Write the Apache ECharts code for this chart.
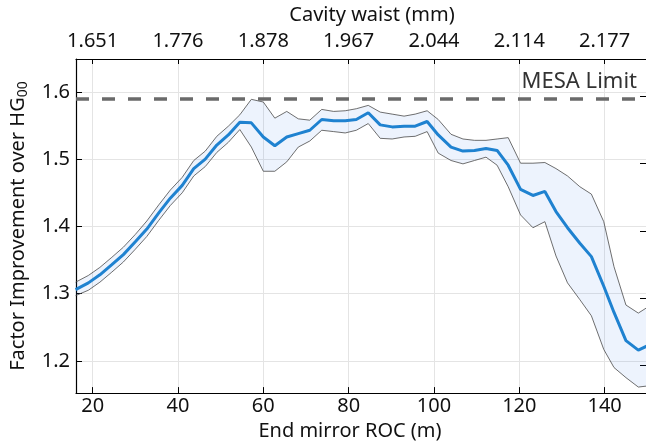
<!DOCTYPE html>
<html>
<head>
<meta charset="utf-8">
<script src="https://cdn.jsdelivr.net/npm/echarts@6/dist/echarts.min.js"></script>
<style>
html, body { margin: 0; padding: 0; background: #fff; }
#chart { width: 646px; height: 446px; }
</style>
</head>
<body>
<div id="chart"></div>
<script>
// End mirror ROC (m)
var roc = [16.0, 19.0, 21.7, 24.5, 27.2, 30.0, 32.7, 35.5, 38.2, 41.0,
    43.7, 46.4, 49.1, 51.8, 54.5, 57.2, 60.0, 62.7, 65.5, 68.2,
    70.9, 73.7, 76.5, 79.2, 81.8, 84.6, 87.4, 90.2, 93.0, 95.6,
    98.4, 101.0, 104.0, 106.8, 109.5, 112.2, 114.8, 117.4, 120.3, 123.2,
    126.0, 128.6, 131.3, 134.2, 136.9, 139.8, 142.2, 145.0, 147.9, 150.6];
// mean improvement
var mean = [1.306, 1.316, 1.328, 1.343, 1.358, 1.377, 1.396, 1.420, 1.442, 1.461,
    1.486, 1.500, 1.521, 1.536, 1.555, 1.554, 1.533, 1.520, 1.533, 1.538,
    1.543, 1.559, 1.557, 1.557, 1.559, 1.569, 1.551, 1.548, 1.549, 1.549,
    1.556, 1.536, 1.518, 1.512, 1.513, 1.516, 1.513, 1.491, 1.455, 1.446,
    1.452, 1.422, 1.398, 1.375, 1.355, 1.311, 1.272, 1.230, 1.216, 1.224];
// band edges
var upper = [1.317, 1.327, 1.339, 1.354, 1.369, 1.388, 1.408, 1.432, 1.454, 1.473,
    1.498, 1.512, 1.534, 1.549, 1.566, 1.589, 1.585, 1.561, 1.571, 1.560,
    1.558, 1.574, 1.571, 1.572, 1.575, 1.580, 1.570, 1.567, 1.564, 1.567,
    1.572, 1.559, 1.537, 1.530, 1.528, 1.528, 1.530, 1.532, 1.494, 1.494,
    1.495, 1.486, 1.475, 1.459, 1.448, 1.407, 1.340, 1.283, 1.271, 1.282];
var lower = [1.297, 1.305, 1.317, 1.332, 1.347, 1.366, 1.385, 1.409, 1.431, 1.450,
    1.475, 1.489, 1.510, 1.525, 1.544, 1.518, 1.482, 1.482, 1.496, 1.518,
    1.527, 1.543, 1.541, 1.539, 1.543, 1.553, 1.531, 1.530, 1.533, 1.534,
    1.541, 1.509, 1.498, 1.493, 1.498, 1.503, 1.491, 1.459, 1.417, 1.398,
    1.407, 1.356, 1.316, 1.291, 1.267, 1.217, 1.190, 1.175, 1.161, 1.163];

// top axis: cavity waist at the ROC ticks
var rocTicks = [20, 40, 60, 80, 100, 120, 140];
var waistTicks = ['1.651', '1.776', '1.878', '1.967', '2.044', '2.114', '2.177'];
var mesaLimit = 1.586;

var font = 'Noto Sans';

function pairs(ys) {
    return roc.map(function (x, i) { return [x, ys[i]]; });
}

var myChart = echarts.init(document.getElementById('chart'));

var option = {
    animation: false,
    textStyle: { fontFamily: font },
    grid: { left: 72, right: 0, top: 59, bottom: 52 },
    xAxis: [
        {
            type: 'value', position: 'bottom',
            min: 16.1, max: 149.7, splitNumber: 7,
            name: 'End mirror ROC (m)', nameLocation: 'middle', nameGap: 23,
            nameTextStyle: { fontSize: 20, color: '#111', padding: [0, 22, 0, 0] },
            axisLine: { lineStyle: { color: '#000', width: 1.2 } },
            axisTick: { inside: true, length: 6, lineStyle: { color: '#000' } },
            axisLabel: { fontSize: 20, color: '#111', margin: 3, showMinLabel: false, showMaxLabel: false },
            splitLine: { lineStyle: { color: '#e4e4e4' } }
        },
        {
            type: 'value', position: 'top',
            min: 16.1, max: 149.7, splitNumber: 7,
            name: 'Cavity waist (mm)', nameLocation: 'middle', nameGap: 34,
            nameTextStyle: { fontSize: 20, color: '#111', padding: [0, 0, 0, 22] },
            axisLine: { lineStyle: { color: '#000', width: 1.2 } },
            axisTick: { inside: true, length: 5, lineStyle: { color: '#000' } },
            axisLabel: {
                fontSize: 20, color: '#111', margin: 8, showMinLabel: false, showMaxLabel: false,
                formatter: function (v) {
                    var k = rocTicks.indexOf(Math.round(v));
                    return k < 0 ? '' : waistTicks[k];
                }
            },
            splitLine: { show: false }
        }
    ],
    yAxis: [
        {
            type: 'value', position: 'left',
            min: 1.152, max: 1.649, splitNumber: 5,
            name: 'Factor Improvement over HG{sub|00}', nameLocation: 'middle', nameGap: 46,
            nameTextStyle: {
                fontSize: 20, color: '#111',
                rich: { sub: { fontSize: 14, color: '#111', padding: [10, 0, 0, 0] } }
            },
            axisLine: { lineStyle: { color: '#000', width: 1.2 } },
            axisTick: { inside: true, length: 6, lineStyle: { color: '#000' } },
            axisLabel: { fontSize: 20, color: '#111', margin: 6, showMinLabel: false, showMaxLabel: false },
            splitLine: { lineStyle: { color: '#e4e4e4' } }
        },
        {
            type: 'value', position: 'right',
            min: 1.1587, max: 1.6557, splitNumber: 5,
            axisLine: { show: false },
            axisTick: { show: true, inside: true, length: 6, lineStyle: { color: '#000' } },
            axisLabel: { show: false },
            splitLine: { show: false }
        }
    ],
    series: [
        {
            type: 'custom',
            silent: true,
            z: 1,
            data: [[roc[0], mean[0]]],
            renderItem: function (params, api) {
                var pts = [];
                for (var i = 0; i < roc.length; i++) pts.push(api.coord([roc[i], upper[i]]));
                for (var j = roc.length - 1; j >= 0; j--) pts.push(api.coord([roc[j], lower[j]]));
                return { type: 'polygon', shape: { points: pts }, style: { fill: 'rgba(30,105,230,0.08)' } };
            }
        },
        {
            type: 'line', data: pairs(upper), symbol: 'none', silent: true, z: 2,
            lineStyle: { color: '#4a4a4a', width: 0.8 }
        },
        {
            type: 'line', data: pairs(lower), symbol: 'none', silent: true, z: 2,
            lineStyle: { color: '#4a4a4a', width: 0.8 }
        },
        {
            type: 'line', data: pairs(mean), symbol: 'none', z: 3,
            lineStyle: { color: '#1f82d0', width: 3 },
            markLine: {
                silent: true,
                symbol: 'none',
                data: [{ yAxis: mesaLimit }],
                lineStyle: { color: '#6a6a6a', width: 3.5, type: [13, 13] },
                label: {
                    position: 'insideEndTop', formatter: 'MESA Limit',
                    fontSize: 22, color: '#333', distance: [9, 6]
                }
            }
        }
    ]
};

myChart.setOption(option);
</script>
</body>
</html>
